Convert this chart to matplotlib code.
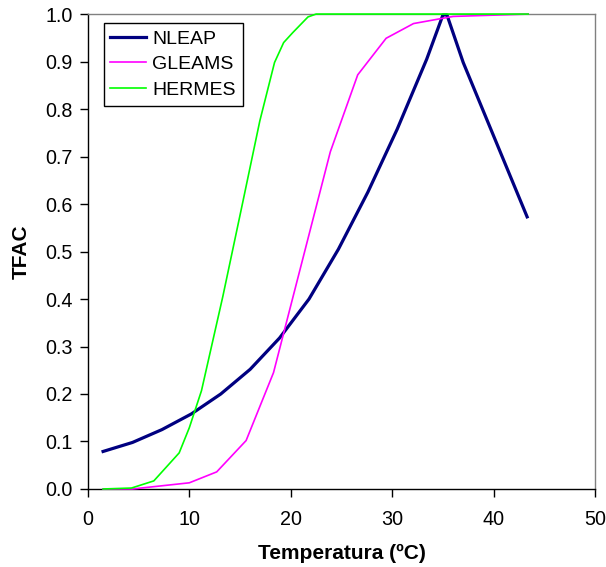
import matplotlib
matplotlib.use("Agg")
import matplotlib.pyplot as plt

plt.rcParams['font.family'] = ['Liberation Sans', 'DejaVu Sans']

nleap_x = [1.5, 4.4, 7.3, 10.2, 13.1, 16.0, 18.9, 21.8, 24.7, 27.6, 30.5, 33.4, 35.0, 35.4, 37.0, 43.3]
nleap_y = [0.079, 0.098, 0.125, 0.158, 0.200, 0.252, 0.318, 0.400, 0.505, 0.625, 0.758, 0.905, 0.998, 0.998, 0.898, 0.573]

gleams_x = [1.5, 4.4, 10.0, 12.7, 15.6, 18.3, 23.9, 26.6, 29.4, 32.1, 36.0, 43.4]
gleams_y = [0.0, 0.0, 0.013, 0.036, 0.102, 0.245, 0.710, 0.872, 0.949, 0.980, 0.995, 1.0]

hermes_x = [1.5, 4.3, 6.5, 9.0, 10.0, 11.2, 13.3, 15.3, 16.95, 18.4, 19.3, 20.2, 21.7, 22.5, 43.4]
hermes_y = [0.0, 0.002, 0.017, 0.076, 0.129, 0.207, 0.405, 0.607, 0.775, 0.898, 0.940, 0.961, 0.994, 1.0, 1.0]

xticks = [0, 10, 20, 30, 40, 50]
yticks = [0.0, 0.1, 0.2, 0.3, 0.4, 0.5, 0.6, 0.7, 0.8, 0.9, 1.0]

fig = plt.figure(figsize=(6.06, 5.67), dpi=100)
ax = fig.add_axes([0.145, 0.1376, 0.837, 0.8376])

ax.plot(nleap_x, nleap_y, color='#000080', lw=2.3, label='NLEAP', clip_on=False, zorder=3)
ax.plot(gleams_x, gleams_y, color='#FF00FF', lw=1.2, label='GLEAMS', clip_on=False, zorder=3)
ax.plot(hermes_x, hermes_y, color='#00FF00', lw=1.2, label='HERMES', clip_on=False, zorder=3)

ax.set_xlim(0, 50)
ax.set_ylim(0, 1.0)
ax.set_xticks(xticks)
ax.set_xticklabels([str(v) for v in xticks])
ax.set_yticks(yticks)
ax.set_yticklabels([f"{v:.1f}" for v in yticks])
ax.tick_params(axis='both', direction='out', length=6, width=1, labelsize=14.2, colors='black')
ax.tick_params(axis='x', pad=9)
ax.tick_params(axis='y', pad=5)

for s in ['top', 'right']:
    ax.spines[s].set_color('#808080')
    ax.spines[s].set_linewidth(1)
for s in ['left', 'bottom']:
    ax.spines[s].set_color('black')
    ax.spines[s].set_linewidth(1)

ax.set_xlabel('Temperatura (ºC)', fontsize=15, fontweight='bold', labelpad=11)
ax.set_ylabel('TFAC', fontsize=15, fontweight='bold', labelpad=10)

leg = ax.legend(loc='upper left', bbox_to_anchor=(0.031, 0.981), fontsize=14,
                frameon=True, fancybox=False, edgecolor='black', framealpha=1,
                handlelength=1.85, handletextpad=0.3, borderpad=0.35, labelspacing=0.42,
                borderaxespad=0)
leg.get_frame().set_linewidth(1)

fig.savefig('out.png', dpi=100)
